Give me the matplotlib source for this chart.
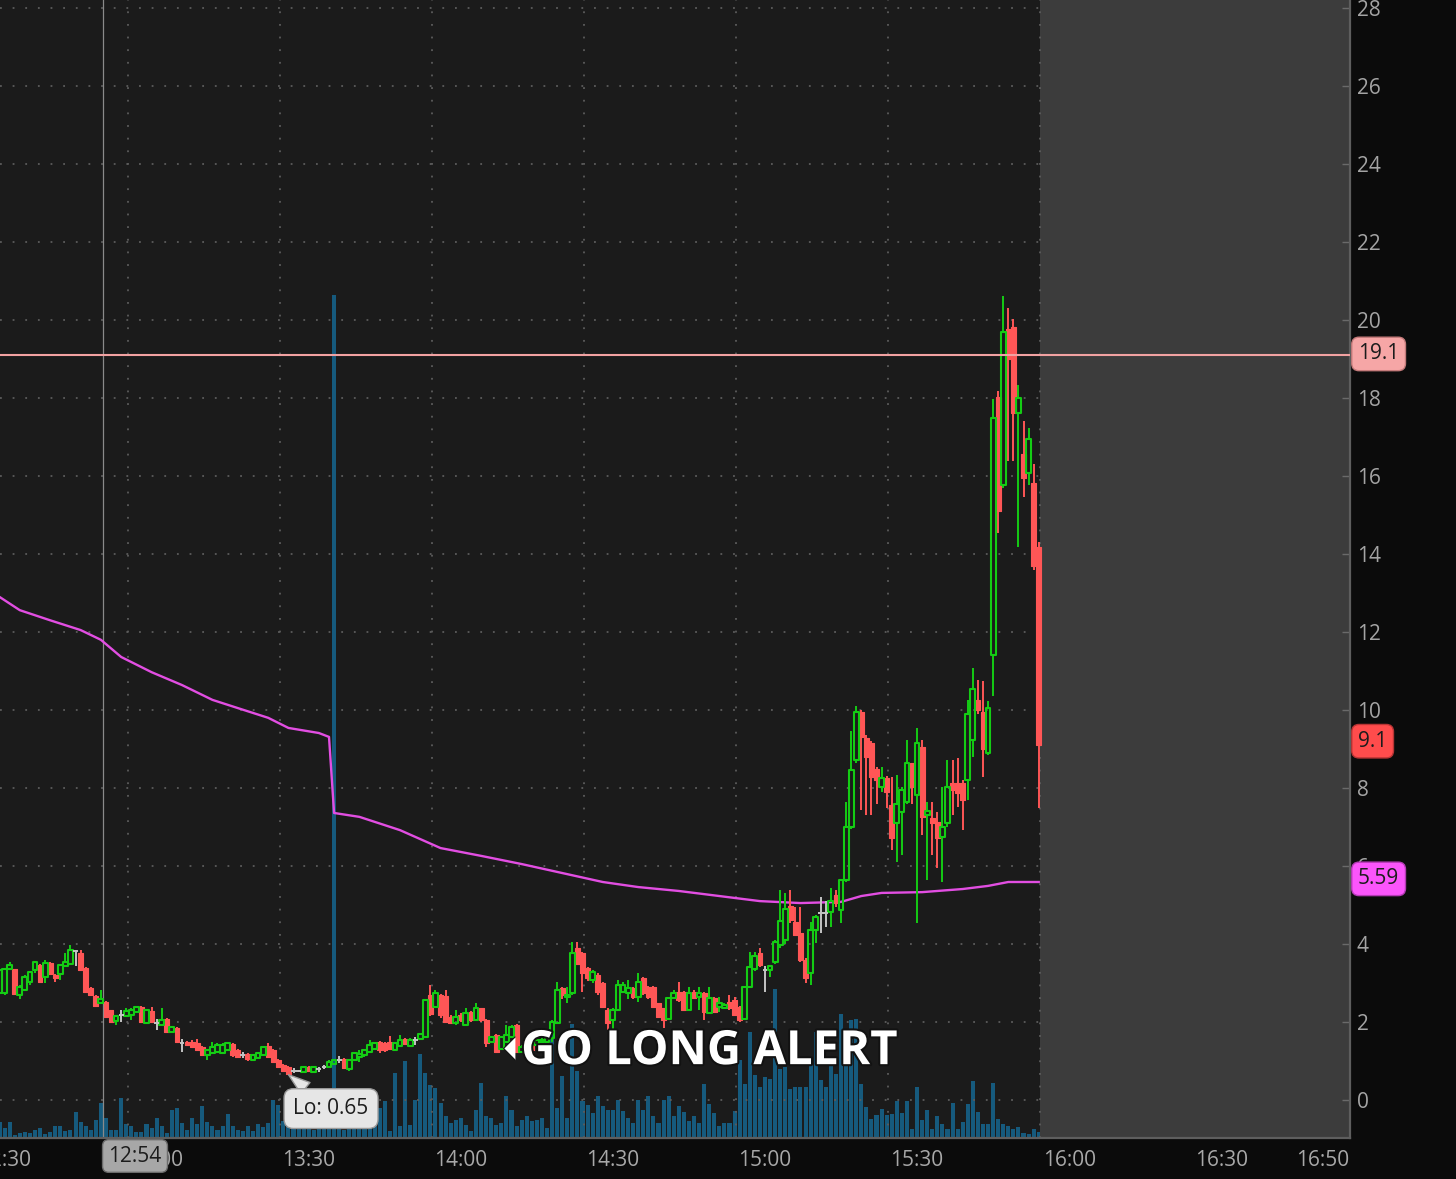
import numpy as np
import matplotlib
matplotlib.use("Agg")
import matplotlib.pyplot as plt
from matplotlib.patches import Rectangle
from matplotlib.collections import LineCollection, PatchCollection
import matplotlib.patheffects as pe

plt.rcParams['font.family'] = ['Open Sans', 'DejaVu Sans']

# ---------------- data (1-minute candles, minutes after 12:30) ----------------
minutes = list(range(-1, 205))

opens = [
    2.74, 2.74, 3.35, 3.35, 2.69, 2.82, 3.03, 3.33, 3.46, 3.16,
    3.52, 3.20, 3.23, 3.44, 3.50, 3.83, 3.78, 3.38, 2.86, 2.67,
    2.48, 2.52, 2.31, 2.03, 2.18, 2.15, 2.18, 2.26, 2.39, 1.97,
    2.29, 1.97, 1.92, 2.07, 1.75, 1.84, 1.47, 1.50, 1.50, 1.45,
    1.37, 1.15, 1.20, 1.24, 1.21, 1.28, 1.44, 1.28, 1.15, 1.17,
    1.03, 1.07, 1.15, 1.38, 1.28, 1.03, 0.90, 0.85, 0.75, 0.75,
    0.73, 0.85, 0.73, 0.80, 0.84, 0.85, 0.92, 1.03, 1.05, 0.79,
    1.03, 1.10, 1.15, 1.24, 1.32, 1.50, 1.45, 1.50, 1.28, 1.38,
    1.56, 1.38, 1.54, 1.56, 1.61, 2.70, 2.39, 2.69, 2.66, 2.14,
    1.97, 2.18, 1.92, 2.26, 2.05, 2.35, 2.05, 1.50, 1.67, 1.32,
    1.50, 1.62, 1.92, 1.24, 1.35, 1.54, 1.41, 1.50, 1.50, 1.58,
    1.97, 2.86, 2.63, 2.74, 3.89, 3.76, 3.38, 3.08, 3.20, 2.99,
    2.31, 2.05, 2.31, 2.78, 2.74, 2.86, 2.65, 3.12, 2.90, 2.91,
    2.48, 2.35, 2.09, 2.61, 2.78, 2.78, 2.31, 2.78, 2.65, 2.74,
    2.22, 2.61, 2.39, 2.35, 2.52, 2.56, 2.39, 2.07, 2.91, 3.35,
    3.76, 3.33, 3.33, 3.55, 3.97, 4.10, 4.97, 4.57, 4.27, 3.59,
    3.25, 4.36, 4.79, 4.79, 4.83, 5.26, 4.87, 5.64, 7.01, 8.72,
    9.96, 9.28, 9.15, 8.50, 8.03, 8.25, 7.56, 7.09, 7.39, 7.65,
    8.63, 7.82, 9.04, 7.31, 7.22, 7.14, 6.75, 7.09, 8.14, 8.12,
    8.12, 8.20, 9.23, 10.26, 9.96, 8.90, 11.41, 18.02, 15.77, 19.78,
    19.82, 17.62, 16.56, 16.08, 15.81, 14.19,
]
highs = [
    3.40, 3.36, 3.55, 3.36, 2.95, 3.20, 3.30, 3.56, 3.50, 3.60,
    3.55, 3.22, 3.50, 3.76, 3.97, 3.85, 3.85, 3.40, 2.90, 2.70,
    2.82, 2.55, 2.32, 2.17, 2.31, 2.35, 2.35, 2.41, 2.41, 2.33,
    2.39, 2.09, 2.35, 2.10, 1.90, 1.86, 1.56, 1.52, 1.54, 1.56,
    1.39, 1.30, 1.50, 1.45, 1.45, 1.50, 1.46, 1.30, 1.24, 1.20,
    1.17, 1.22, 1.37, 1.45, 1.30, 1.05, 0.92, 0.87, 0.81, 0.78,
    0.86, 0.87, 0.86, 0.85, 0.90, 1.03, 1.05, 1.13, 1.07, 1.05,
    1.24, 1.28, 1.32, 1.54, 1.50, 1.52, 1.50, 1.64, 1.50, 1.67,
    1.60, 1.58, 1.62, 1.72, 2.60, 2.95, 2.82, 2.72, 2.82, 2.18,
    2.31, 2.22, 2.35, 2.29, 2.48, 2.37, 2.07, 1.64, 1.69, 1.64,
    1.92, 1.92, 1.94, 1.40, 1.45, 1.56, 1.58, 1.60, 1.60, 2.05,
    3.03, 2.90, 2.91, 4.06, 4.06, 3.80, 3.40, 3.33, 3.25, 3.03,
    2.35, 2.35, 3.08, 3.03, 3.08, 2.90, 3.25, 3.16, 2.93, 2.93,
    2.50, 2.37, 2.63, 2.82, 3.03, 2.80, 2.91, 2.82, 2.91, 2.78,
    2.91, 2.63, 2.65, 2.48, 2.69, 2.65, 2.41, 2.93, 3.80, 3.80,
    3.89, 3.44, 3.46, 4.10, 5.38, 5.30, 5.38, 4.96, 4.96, 3.64,
    4.57, 4.75, 5.21, 5.10, 5.43, 5.38, 5.66, 7.65, 9.45, 10.09,
    10.00, 9.35, 9.20, 8.55, 8.53, 8.30, 8.29, 8.33, 8.03, 9.23,
    8.65, 9.53, 9.23, 7.65, 7.65, 7.39, 8.03, 8.72, 8.72, 8.76,
    8.20, 10.26, 11.07, 10.77, 10.75, 10.22, 17.97, 18.19, 20.62, 20.31,
    20.02, 18.33, 17.40, 17.22, 16.30, 14.30,
]
lows = [
    2.65, 2.70, 3.33, 2.70, 2.58, 2.80, 2.95, 3.25, 3.00, 2.99,
    3.20, 3.03, 3.08, 3.43, 3.45, 3.44, 3.30, 2.75, 2.67, 2.38,
    2.45, 2.10, 1.98, 1.92, 2.01, 2.13, 2.05, 2.22, 1.98, 1.95,
    1.99, 1.79, 1.90, 1.73, 1.73, 1.48, 1.24, 1.38, 1.35, 1.26,
    1.13, 1.03, 1.18, 1.20, 1.19, 1.26, 1.10, 1.08, 1.07, 1.00,
    1.01, 1.05, 1.13, 1.09, 0.96, 0.83, 0.73, 0.65, 0.68, 0.72,
    0.71, 0.73, 0.68, 0.73, 0.80, 0.83, 0.90, 0.94, 0.79, 0.74,
    1.00, 0.98, 1.10, 1.20, 1.30, 1.20, 1.24, 1.28, 1.26, 1.35,
    1.40, 1.35, 1.41, 1.54, 1.58, 2.15, 2.35, 2.10, 1.97, 1.95,
    1.92, 2.00, 1.90, 2.00, 2.03, 2.00, 1.37, 1.48, 1.20, 1.30,
    1.48, 1.60, 1.20, 1.20, 1.25, 1.25, 1.38, 1.45, 1.45, 1.50,
    1.95, 2.60, 2.48, 2.70, 3.45, 2.78, 3.05, 2.99, 2.70, 2.35,
    1.79, 1.79, 2.28, 2.74, 2.60, 2.60, 2.52, 2.70, 2.60, 2.35,
    2.10, 1.84, 2.07, 2.58, 2.52, 2.28, 2.28, 2.58, 2.31, 2.05,
    2.20, 2.22, 2.26, 2.33, 2.31, 2.15, 2.00, 2.05, 2.88, 3.30,
    3.40, 2.78, 3.16, 3.50, 3.90, 4.00, 4.55, 4.20, 3.55, 2.99,
    2.95, 4.02, 4.27, 4.44, 4.44, 4.95, 4.53, 5.60, 6.95, 8.65,
    7.44, 7.30, 7.30, 7.60, 7.90, 7.50, 6.41, 6.11, 6.28, 7.60,
    7.60, 4.53, 6.80, 5.64, 6.28, 5.94, 5.60, 7.00, 7.31, 7.52,
    6.92, 7.69, 8.80, 9.90, 8.28, 8.85, 10.35, 14.54, 15.70, 16.39,
    16.39, 14.19, 15.46, 15.77, 13.60, 7.49,
]
closes = [
    3.33, 3.35, 3.46, 2.72, 2.89, 3.15, 3.27, 3.55, 3.03, 3.52,
    3.23, 3.12, 3.46, 3.55, 3.85, 3.83, 3.33, 2.78, 2.69, 2.41,
    2.60, 2.12, 2.01, 2.15, 2.18, 2.29, 2.32, 2.39, 2.01, 2.31,
    2.01, 1.97, 2.05, 1.75, 1.88, 1.50, 1.47, 1.41, 1.37, 1.28,
    1.15, 1.28, 1.37, 1.41, 1.41, 1.45, 1.15, 1.11, 1.15, 1.04,
    1.15, 1.20, 1.35, 1.11, 0.98, 0.85, 0.75, 0.67, 0.75, 0.75,
    0.84, 0.75, 0.84, 0.80, 0.84, 0.98, 1.03, 1.03, 0.81, 1.03,
    1.20, 1.18, 1.28, 1.41, 1.45, 1.28, 1.28, 1.30, 1.45, 1.54,
    1.44, 1.54, 1.54, 1.69, 2.56, 2.20, 2.74, 2.18, 2.01, 1.97,
    2.14, 2.05, 2.22, 2.05, 2.35, 2.05, 1.45, 1.62, 1.24, 1.62,
    1.67, 1.88, 1.24, 1.35, 1.30, 1.28, 1.54, 1.55, 1.58, 2.01,
    2.82, 2.69, 2.69, 3.76, 3.50, 3.25, 3.12, 3.29, 2.78, 2.39,
    1.97, 2.31, 2.95, 2.95, 2.86, 2.65, 3.03, 2.74, 2.65, 2.39,
    2.14, 2.05, 2.61, 2.74, 2.56, 2.31, 2.74, 2.61, 2.74, 2.26,
    2.61, 2.26, 2.48, 2.44, 2.35, 2.18, 2.05, 2.91, 3.42, 3.68,
    3.46, 3.33, 3.44, 4.06, 4.60, 4.90, 4.62, 4.23, 3.59, 3.12,
    4.36, 4.70, 4.79, 4.79, 5.11, 5.04, 5.64, 7.01, 8.46, 9.96,
    9.32, 8.80, 8.29, 8.20, 8.25, 7.90, 6.71, 7.60, 7.95, 8.63,
    8.03, 9.15, 7.26, 7.42, 7.09, 6.71, 7.00, 8.03, 7.95, 7.86,
    7.69, 9.91, 10.55, 10.00, 8.99, 10.06, 17.49, 15.11, 19.69, 18.99,
    17.62, 17.99, 15.95, 16.96, 13.70, 9.10,
]
volumes = [  # thousands of shares
    16, 10, 16, 3, 5, 6, 5, 8, 10, 4,
    6, 12, 12, 7, 8, 26, 16, 12, 8, 18,
    35, 20, 8, 8, 40, 14, 12, 6, 6, 14,
    10, 20, 12, 5, 28, 30, 15, 8, 20, 14,
    32, 16, 12, 8, 12, 24, 12, 8, 7, 12,
    7, 14, 11, 15, 38, 33, 17, 20, 25, 12,
    10, 15, 8, 18, 10, 20, 843, 27, 8, 14,
    10, 18, 12, 25, 38, 30, 37, 7, 65, 12,
    77, 13, 38, 84, 65, 53, 50, 35, 22, 15,
    18, 20, 13, 7, 28, 55, 22, 20, 13, 15,
    42, 28, 12, 18, 22, 17, 18, 20, 10, 105,
    30, 62, 20, 114, 67, 37, 33, 25, 42, 32,
    28, 28, 38, 27, 20, 15, 38, 28, 42, 22,
    15, 38, 42, 22, 32, 26, 17, 22, 15, 54,
    34, 25, 12, 15, 15, 27, 78, 54, 106, 63,
    51, 61, 59, 149, 69, 71, 49, 51, 51, 51,
    79, 106, 58, 51, 78, 64, 124, 74, 118, 119,
    54, 31, 19, 23, 29, 23, 24, 37, 25, 37,
    9, 51, 18, 28, 9, 22, 14, 9, 35, 9,
    16, 34, 57, 26, 14, 14, 55, 19, 14, 12,
    9, 11, 5, 4, 9, 6,
]

vwap_minutes = [-1, 3, 9, 15, 19, 23, 29, 35, 41, 46, 52, 56, 62, 64, 65, 70, 78, 86,
                94, 102, 110, 118, 125, 133, 141, 149, 157, 165, 169, 173, 181, 189,
                194, 198, 204]
vwap_values = [12.9, 12.56, 12.3, 12.05, 11.8, 11.36, 10.97, 10.64, 10.26, 10.05, 9.8,
               9.54, 9.41, 9.31, 7.36, 7.26, 6.92, 6.46, 6.26, 6.05, 5.82, 5.59, 5.46,
               5.36, 5.23, 5.1, 5.05, 5.08, 5.23, 5.31, 5.33, 5.41, 5.49, 5.59, 5.59]

tick_minutes = [0, 30, 60, 90, 120, 150, 180, 210, 240, 260]
tick_labels = ["12:30", "13:00", "13:30", "14:00", "14:30", "15:00", "15:30",
               "16:00", "16:30", "16:50"]
price_ticks = list(range(0, 29, 2))
alert_price = 19.1
last_price = 9.1
vwap_last = 5.59
low_price = 0.65
crosshair_time = "12:54"

assert len(opens) == len(highs) == len(lows) == len(closes) == len(volumes) == len(minutes)

# ---------------- figure ----------------
W, H = 1456, 1179
fig = plt.figure(figsize=(W / 100, H / 100), dpi=100, facecolor="#0b0b0b")
ax_right = 1350 / W
ax_bottom = (H - 1138) / H
rect = [0, ax_bottom, ax_right, 1 - ax_bottom]
axv = fig.add_axes(rect)
ax = fig.add_axes(rect, sharex=axv)
axv.set_facecolor("#1b1b1b")
ax.patch.set_visible(False)

XMIN, XMAX = -0.9, 265.4
SESSION_END = 204.2
ax.set_xlim(XMIN, XMAX)
ax.set_ylim(-0.974, 28.205)
axv.set_ylim(0, 1138)

# volume
axv.bar(minutes, volumes, width=0.8, color="#165a7d", zorder=2)
for s in axv.spines.values():
    s.set_visible(False)
axv.tick_params(left=False, labelleft=False, bottom=False, labelbottom=False)

# after-session shade
ax.axvspan(SESSION_END, XMAX, color="#3c3c3c", zorder=0.5, lw=0)

# dotted grid
dot = (0, (1, 6))
ax.hlines(price_ticks, XMIN, SESSION_END, colors="#5c5c5c", linestyles=dot, lw=1.3, zorder=0.8)
for gx in [24.3, 54.3, 84.3, 114.3, 144.3, 174.3, 204.3]:
    ax.axvline(gx, color="#5c5c5c", linestyle=dot, lw=1.3, zorder=0.9)

# crosshair
ax.axvline(19.43, color="#8a8a8a", lw=0.9, zorder=1)

# VWAP
ax.plot(vwap_minutes, vwap_values, color="#e24ee2", lw=1.7, zorder=2.5)

# candles
GREEN = "#14cc14"
RED = "#ff5656"
GRAY = "#c4c4c4"
bw = 0.95
up_rects, dn_rects = [], []
up_wicks, dn_wicks, dj_lines = [], [], []
for x, o, h, l, c in zip(minutes, opens, highs, lows, closes):
    if c > o:
        up_rects.append(Rectangle((x - bw / 2, o), bw, c - o))
        up_wicks += [[(x, c), (x, h)], [(x, l), (x, o)]]
    elif c < o:
        dn_rects.append(Rectangle((x - bw / 2, c), bw, o - c))
        dn_wicks.append([(x, l), (x, h)])
    else:
        dj_lines += [[(x, l), (x, h)], [(x - bw / 2, o), (x + bw / 2, o)]]

ax.add_collection(LineCollection(dn_wicks, colors=RED, linewidths=1.4, zorder=3))
ax.add_collection(PatchCollection(dn_rects, facecolor=RED, edgecolor=RED, linewidths=0.8, zorder=3.1))
ax.add_collection(LineCollection(up_wicks, colors=GREEN, linewidths=1.4, zorder=3))
ax.add_collection(PatchCollection(up_rects, facecolor="none", edgecolor=GREEN, linewidths=1.5, zorder=3.2))
ax.add_collection(LineCollection(dj_lines, colors=GRAY, linewidths=1.4, zorder=3.2))

# alert line
ax.axhline(alert_price, color="#f2a2a2", lw=1.5, zorder=3.5)

# axes styling
for name, s in ax.spines.items():
    s.set_visible(name in ("right", "bottom"))
    s.set_color("#5e5e5e")
    s.set_linewidth(1.6)
ax.yaxis.tick_right()
ax.set_yticks(price_ticks)
ax.set_yticklabels([str(v) for v in price_ticks])
ax.tick_params(axis="y", direction="in", length=6, width=1, color="#6a6a6a",
               labelcolor="#a4a4a4", labelsize=15, pad=5)
ax.set_xticks(tick_minutes)
ax.set_xticklabels(tick_labels)
ax.tick_params(axis="x", length=0, labelcolor="#a8a8a8", labelsize=15, pad=9)

# right-side value labels
ytr = ax.get_yaxis_transform()
def value_tag(y, text, fc, ec):
    ax.text(1 + 8 / 1350, y, text, transform=ytr, ha="left", va="center", fontsize=15,
            color="#1c1c1c", clip_on=False, zorder=20,
            bbox=dict(boxstyle="round,pad=0.3,rounding_size=0.35", fc=fc, ec=ec, lw=1))

value_tag(alert_price + 0.03, f"{alert_price}", "#f6a6a6", "#c47a7a")
value_tag(last_price + 0.1, f"{last_price}", "#ff4c4c", "#b83434")
value_tag(vwap_last + 0.08, f"{vwap_last}", "#fb55fb", "#b53ab5")

# crosshair time tag
fig.text(135 / W, 1 - 1156 / H, crosshair_time, ha="center", va="center", fontsize=15,
         color="#1c1c1c", zorder=20,
         bbox=dict(boxstyle="round,pad=0.28,rounding_size=0.3", fc="#a7a7a7", ec="#6c6c6c", lw=1))

# Lo callout
low_idx = int(np.argmin(lows))
ax.annotate(f"Lo: {low_price}", xy=(minutes[low_idx], lows[low_idx]), xytext=(64.4, -0.22),
            textcoords="data", ha="center", va="center", fontsize=15, color="#1c1c1c", zorder=20,
            bbox=dict(boxstyle="round,pad=0.45,rounding_size=0.45", fc="#e6e6e6", ec="#9a9a9a", lw=1),
            arrowprops=dict(arrowstyle="wedge,tail_width=0.7,shrink_factor=0.5", fc="#e6e6e6",
                            ec="#9a9a9a", lw=1, shrinkA=0, shrinkB=0))

# GO LONG ALERT
ax.text(101.9, 1.24, "GO LONG ALERT", fontsize=34, fontweight="bold", color="white",
        ha="left", va="center", zorder=21,
        path_effects=[pe.withStroke(linewidth=3, foreground="#121212")])
ax.plot([99.6], [1.33], marker=[(0.5, 1), (-0.5, 0), (0.5, -1)], ms=17, color="white",
        mec="#121212", mew=0.8, zorder=21, linestyle="none")

fig.savefig("out.png", dpi=100, facecolor=fig.get_facecolor())
